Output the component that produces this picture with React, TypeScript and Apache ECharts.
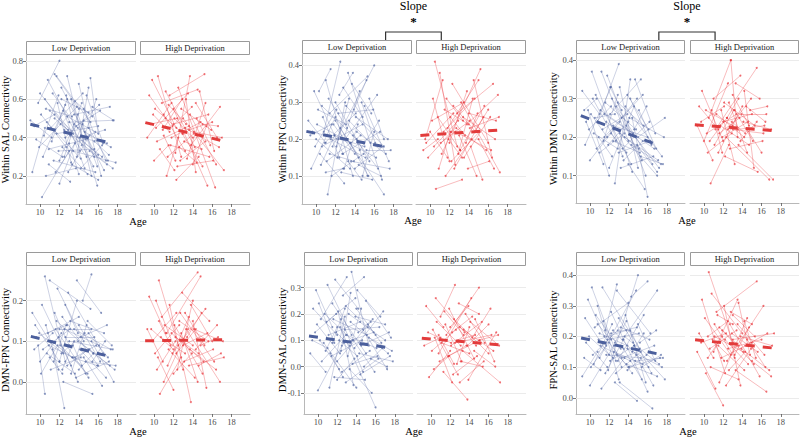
import React, { useEffect, useRef } from 'react';
import * as echarts from 'echarts';

// ---------- Tick labels ----------
const AGE_TICKS = [10, 12, 14, 16, 18];
const SAL_TICKS = [0.2, 0.4, 0.6, 0.8];
const FPN_TICKS = [0.1, 0.2, 0.3, 0.4];
const DMN_TICKS = [0.1, 0.2, 0.3, 0.4];
const DMNFPN_TICKS = [0.0, 0.1, 0.2];
const DMNSAL_TICKS = [-0.1, 0.0, 0.1, 0.2, 0.3];
const FPNSAL_TICKS = [0.0, 0.1, 0.2, 0.3, 0.4];

const FACETS = ['Low Deprivation', 'High Deprivation'];

// ---------- Individual trajectories: [age1, value1, age2, value2] ----------
const salLow = [
  [9.2, 0.22, 10.5, 0.45], [9.0, 0.49, 11.2, 0.40], [9.8, 0.58, 12.0, 0.80], [10.2, 0.09, 13.0, 0.33],
  [10.0, 0.63, 13.4, 0.42], [10.5, 0.60, 14.8, 0.30], [10.8, 0.70, 15.5, 0.25], [11.0, 0.54, 16.0, 0.31],
  [11.5, 0.73, 14.0, 0.55], [11.7, 0.72, 15.2, 0.48], [11.2, 0.38, 12.8, 0.60], [12.2, 0.66, 16.6, 0.23],
  [12.5, 0.44, 17.5, 0.24], [12.8, 0.72, 15.3, 0.20], [13.0, 0.48, 17.5, 0.49], [13.2, 0.60, 15.9, 0.15],
  [13.5, 0.52, 17.2, 0.56], [13.8, 0.30, 15.0, 0.66], [14.0, 0.68, 16.3, 0.20], [14.3, 0.36, 15.8, 0.60],
  [14.5, 0.55, 16.8, 0.28], [14.8, 0.62, 16.5, 0.37], [15.2, 0.71, 16.0, 0.42], [12.0, 0.16, 14.5, 0.49],
  [11.6, 0.22, 13.6, 0.37], [10.3, 0.30, 12.6, 0.57], [10.7, 0.48, 14.2, 0.29], [12.6, 0.40, 16.1, 0.57],
  [11.9, 0.33, 15.6, 0.34], [13.3, 0.26, 16.0, 0.18], [9.6, 0.39, 12.3, 0.30], [15.0, 0.45, 17.0, 0.28],
  [12.4, 0.54, 14.6, 0.24], [11.3, 0.63, 13.9, 0.45], [10.9, 0.26, 13.1, 0.17], [14.1, 0.40, 16.7, 0.44],
  [13.6, 0.59, 15.4, 0.51], [12.9, 0.22, 15.1, 0.41],
  [10.1, 0.52, 12.7, 0.35], [10.4, 0.41, 11.9, 0.62], [10.6, 0.55, 13.3, 0.51], [11.1, 0.45, 14.4, 0.63],
  [11.4, 0.28, 15.7, 0.22], [11.8, 0.58, 13.2, 0.27], [12.1, 0.47, 16.4, 0.30], [12.3, 0.35, 14.9, 0.21],
  [12.7, 0.62, 14.1, 0.33], [13.1, 0.41, 16.9, 0.37], [13.4, 0.33, 17.8, 0.27], [13.7, 0.46, 16.2, 0.54],
  [14.2, 0.24, 16.4, 0.36], [14.6, 0.43, 17.3, 0.35], [15.1, 0.33, 16.9, 0.26], [15.4, 0.56, 17.6, 0.49],
  [9.4, 0.46, 11.5, 0.52], [10.9, 0.34, 14.7, 0.39], [11.5, 0.50, 12.9, 0.44], [12.0, 0.28, 13.5, 0.47],
  [12.8, 0.51, 15.7, 0.43], [13.9, 0.52, 15.9, 0.25], [14.4, 0.47, 15.6, 0.30], [10.6, 0.20, 13.7, 0.24],
  [11.7, 0.42, 16.0, 0.46], [12.5, 0.30, 14.3, 0.58], [13.0, 0.37, 14.0, 0.21], [15.6, 0.38, 17.1, 0.31],
  [9.9, 0.35, 13.8, 0.56], [12.2, 0.60, 15.0, 0.53],
];
const salHigh = [
  [9.5, 0.62, 11.2, 0.50], [9.8, 0.70, 12.3, 0.45], [9.3, 0.40, 11.8, 0.58], [10.4, 0.72, 12.8, 0.30],
  [10.2, 0.45, 13.5, 0.63], [10.8, 0.58, 14.5, 0.65], [11.0, 0.52, 13.2, 0.33], [11.3, 0.20, 12.5, 0.40],
  [11.6, 0.62, 15.2, 0.73], [11.8, 0.40, 14.8, 0.48], [12.0, 0.55, 15.5, 0.15], [12.2, 0.32, 13.7, 0.72],
  [12.5, 0.66, 16.3, 0.14], [12.7, 0.28, 15.3, 0.38], [13.0, 0.50, 17.2, 0.23], [13.3, 0.60, 14.3, 0.22],
  [13.6, 0.44, 16.0, 0.48], [13.8, 0.36, 16.8, 0.56], [14.0, 0.26, 15.4, 0.46], [14.3, 0.58, 16.5, 0.40],
  [10.6, 0.34, 12.1, 0.23], [11.9, 0.46, 13.9, 0.56], [12.3, 0.18, 14.6, 0.30], [10.0, 0.28, 11.5, 0.36],
  [14.7, 0.64, 16.2, 0.33], [12.9, 0.42, 15.0, 0.25], [11.4, 0.30, 14.1, 0.42], [15.0, 0.47, 16.6, 0.46],
  [9.6, 0.47, 12.4, 0.50], [10.1, 0.55, 13.0, 0.42], [10.9, 0.44, 12.9, 0.60], [11.2, 0.64, 14.2, 0.35],
  [11.7, 0.36, 15.7, 0.30], [12.1, 0.50, 14.0, 0.40], [12.4, 0.25, 16.1, 0.28], [12.8, 0.55, 15.9, 0.44],
  [13.1, 0.38, 14.9, 0.34], [13.4, 0.29, 15.3, 0.58], [13.7, 0.52, 16.4, 0.26], [14.1, 0.43, 17.0, 0.40],
  [10.3, 0.38, 13.6, 0.46], [11.5, 0.57, 13.3, 0.47], [12.6, 0.35, 14.4, 0.27], [9.9, 0.52, 11.6, 0.43],
  [14.4, 0.50, 15.8, 0.36], [11.0, 0.41, 12.2, 0.28], [12.0, 0.47, 15.6, 0.52], [13.2, 0.45, 16.7, 0.35],
];
const fpnLow = [
  [9.2, 0.25, 11.0, 0.19], [9.5, 0.12, 12.0, 0.26], [9.8, 0.33, 12.8, 0.16], [10.3, 0.33, 11.5, 0.39],
  [10.0, 0.20, 13.5, 0.12], [10.6, 0.29, 14.2, 0.20], [10.8, 0.22, 12.5, 0.41], [11.0, 0.36, 13.8, 0.10],
  [11.2, 0.05, 13.0, 0.30], [11.4, 0.27, 15.3, 0.37], [11.7, 0.18, 16.0, 0.40], [12.0, 0.30, 15.5, 0.14],
  [12.2, 0.15, 14.5, 0.33], [12.5, 0.23, 17.0, 0.05], [12.8, 0.34, 14.8, 0.26], [13.0, 0.20, 16.3, 0.32],
  [13.3, 0.38, 16.8, 0.09], [13.6, 0.14, 17.6, 0.12], [13.9, 0.28, 15.2, 0.36], [14.2, 0.22, 17.2, 0.16],
  [14.5, 0.17, 16.5, 0.25], [14.8, 0.10, 16.0, 0.22], [10.4, 0.16, 12.9, 0.08], [11.8, 0.24, 14.0, 0.16],
  [12.6, 0.11, 15.8, 0.09], [9.6, 0.22, 12.3, 0.20], [13.4, 0.25, 15.6, 0.19], [15.0, 0.29, 17.5, 0.14],
  [11.1, 0.14, 14.6, 0.21], [12.4, 0.32, 13.8, 0.38], [10.2, 0.28, 13.1, 0.24], [14.0, 0.12, 16.9, 0.18],
  [15.5, 0.31, 17.0, 0.20], [11.5, 0.20, 15.1, 0.15],
  [9.9, 0.18, 12.1, 0.28], [10.1, 0.24, 13.6, 0.19], [10.5, 0.13, 11.9, 0.21], [10.9, 0.19, 14.1, 0.27],
  [11.3, 0.31, 13.2, 0.23], [11.6, 0.10, 14.9, 0.16], [11.9, 0.21, 16.2, 0.15], [12.1, 0.18, 13.4, 0.31],
  [12.3, 0.27, 15.9, 0.28], [12.7, 0.16, 16.6, 0.22], [12.9, 0.12, 14.3, 0.24], [13.1, 0.29, 17.0, 0.18],
  [13.5, 0.19, 15.4, 0.10], [13.8, 0.21, 16.4, 0.12], [14.1, 0.26, 17.4, 0.20], [14.4, 0.13, 16.7, 0.10],
  [14.7, 0.30, 16.1, 0.19], [15.2, 0.17, 17.7, 0.17], [10.7, 0.26, 12.4, 0.15], [11.4, 0.16, 13.9, 0.14],
  [12.6, 0.20, 15.0, 0.18], [13.3, 0.14, 14.7, 0.09], [9.4, 0.21, 11.6, 0.24], [11.0, 0.11, 12.8, 0.12],
  [12.0, 0.25, 14.4, 0.15], [13.7, 0.35, 15.7, 0.27], [10.6, 0.18, 14.8, 0.24], [14.3, 0.19, 15.3, 0.10],
];
const fpnHigh = [
  [9.5, 0.20, 11.3, 0.36], [9.8, 0.15, 12.2, 0.22], [10.5, 0.41, 12.8, 0.18], [10.2, 0.25, 13.5, 0.30],
  [10.6, 0.065, 13.3, 0.09], [11.0, 0.38, 12.6, 0.13], [11.2, 0.16, 15.2, 0.39], [11.5, 0.28, 14.0, 0.24],
  [11.8, 0.23, 15.0, 0.36], [12.0, 0.19, 13.8, 0.33], [12.3, 0.35, 16.0, 0.19], [12.5, 0.12, 15.5, 0.26],
  [12.8, 0.27, 16.5, 0.35], [13.0, 0.21, 14.8, 0.10], [13.2, 0.30, 17.2, 0.11], [13.5, 0.15, 16.2, 0.26],
  [13.8, 0.24, 17.0, 0.32], [14.2, 0.18, 15.4, 0.09], [14.5, 0.36, 16.4, 0.15], [10.3, 0.31, 12.0, 0.14],
  [11.6, 0.10, 14.3, 0.20], [12.1, 0.26, 13.6, 0.21], [9.3, 0.17, 10.8, 0.20], [14.0, 0.27, 16.8, 0.25],
  [12.7, 0.23, 15.8, 0.17], [11.4, 0.22, 14.6, 0.31], [15.0, 0.20, 16.6, 0.12],
  [9.6, 0.19, 12.4, 0.27], [10.0, 0.22, 11.8, 0.15], [10.8, 0.26, 13.1, 0.17], [11.1, 0.19, 14.1, 0.25],
  [11.7, 0.31, 13.4, 0.25], [12.2, 0.14, 15.1, 0.22], [12.6, 0.22, 16.3, 0.17], [13.1, 0.17, 15.6, 0.29],
  [13.4, 0.26, 16.7, 0.20], [13.7, 0.19, 14.9, 0.27], [14.1, 0.23, 17.1, 0.26], [10.4, 0.18, 12.9, 0.25],
  [11.9, 0.20, 13.3, 0.15], [12.4, 0.29, 14.7, 0.22], [14.6, 0.22, 16.0, 0.28], [10.9, 0.12, 12.1, 0.22],
  [13.9, 0.12, 16.1, 0.14], [12.9, 0.16, 14.4, 0.31],
];
const dmnLow = [
  [9.2, 0.32, 11.0, 0.26], [9.5, 0.18, 12.2, 0.33], [9.8, 0.27, 12.0, 0.10], [10.2, 0.37, 13.4, 0.15],
  [10.0, 0.14, 12.5, 0.22], [10.6, 0.31, 14.3, 0.13], [10.8, 0.24, 13.0, 0.39], [11.2, 0.37, 14.0, 0.19],
  [11.5, 0.20, 15.5, 0.31], [11.8, 0.36, 15.8, 0.10], [12.0, 0.12, 14.6, 0.28], [12.3, 0.30, 16.5, 0.13],
  [12.6, 0.08, 14.2, 0.35], [12.8, 0.22, 17.0, 0.10], [13.1, 0.33, 15.0, 0.12], [13.4, 0.17, 16.2, 0.24],
  [13.7, 0.28, 17.5, 0.15], [14.0, 0.13, 15.7, 0.065], [14.4, 0.25, 16.0, 0.045], [14.7, 0.35, 16.8, 0.21],
  [15.0, 0.20, 17.8, 0.25], [11.0, 0.16, 13.6, 0.21], [12.1, 0.26, 15.3, 0.35], [13.2, 0.12, 16.6, 0.15],
  [10.4, 0.21, 12.9, 0.17], [11.6, 0.29, 14.8, 0.22], [13.8, 0.23, 17.2, 0.12], [12.4, 0.19, 15.2, 0.16],
  [9.6, 0.24, 11.4, 0.13], [14.2, 0.30, 16.4, 0.18], [15.3, 0.15, 17.6, 0.13], [11.3, 0.22, 13.9, 0.26],
  [9.9, 0.22, 12.2, 0.28], [10.3, 0.30, 12.7, 0.19], [10.7, 0.17, 13.1, 0.24], [11.1, 0.27, 14.5, 0.21],
  [11.4, 0.19, 12.9, 0.31], [11.7, 0.24, 15.1, 0.17], [12.1, 0.33, 13.3, 0.27], [12.4, 0.23, 16.0, 0.20],
  [12.7, 0.28, 15.4, 0.14], [13.0, 0.16, 16.3, 0.19], [13.3, 0.25, 14.9, 0.30], [13.6, 0.20, 17.1, 0.14],
  [13.9, 0.31, 16.1, 0.22], [14.3, 0.18, 17.4, 0.13], [14.6, 0.22, 15.9, 0.28], [15.1, 0.27, 16.9, 0.17],
  [10.1, 0.26, 11.8, 0.20], [10.9, 0.20, 12.3, 0.15], [11.9, 0.18, 14.0, 0.24], [12.9, 0.29, 15.6, 0.23],
  [13.5, 0.14, 15.5, 0.19], [14.9, 0.18, 17.0, 0.11], [9.4, 0.27, 10.7, 0.30], [12.2, 0.21, 13.8, 0.16],
  [11.5, 0.26, 16.7, 0.17], [13.1, 0.21, 14.4, 0.11], [10.5, 0.25, 12.6, 0.26], [14.1, 0.25, 17.7, 0.20],
];
const dmnHigh = [
  [9.5, 0.28, 11.5, 0.22], [9.8, 0.32, 12.0, 0.19], [10.0, 0.19, 12.5, 0.34], [10.5, 0.25, 12.8, 0.40],
  [10.7, 0.08, 12.6, 0.18], [11.0, 0.30, 13.8, 0.36], [11.2, 0.22, 15.5, 0.38], [11.5, 0.16, 14.0, 0.28],
  [11.8, 0.27, 13.2, 0.13], [12.0, 0.24, 15.0, 0.26], [12.3, 0.20, 16.8, 0.09], [12.6, 0.29, 14.5, 0.16],
  [12.8, 0.40, 13.5, 0.20], [13.0, 0.22, 16.2, 0.21], [13.3, 0.34, 15.8, 0.30], [13.6, 0.18, 17.2, 0.09],
  [13.9, 0.26, 16.5, 0.26], [14.2, 0.32, 15.2, 0.12], [14.5, 0.22, 16.0, 0.16], [10.3, 0.21, 13.4, 0.26],
  [11.7, 0.23, 14.7, 0.18], [12.2, 0.15, 15.6, 0.11], [9.3, 0.23, 10.9, 0.14], [14.8, 0.27, 16.6, 0.28],
  [12.9, 0.24, 14.3, 0.21], [11.1, 0.18, 13.1, 0.27],
  [9.7, 0.24, 12.1, 0.28], [10.2, 0.27, 13.0, 0.23], [10.6, 0.19, 12.4, 0.25], [11.3, 0.26, 14.2, 0.20],
  [11.6, 0.21, 13.7, 0.25], [12.1, 0.29, 15.3, 0.23], [12.5, 0.22, 14.9, 0.30], [12.7, 0.17, 16.1, 0.19],
  [13.2, 0.27, 15.1, 0.19], [13.5, 0.22, 16.3, 0.23], [13.8, 0.19, 15.5, 0.24], [14.1, 0.24, 17.0, 0.22],
  [10.8, 0.27, 11.9, 0.16], [11.9, 0.20, 14.6, 0.24], [12.4, 0.25, 13.6, 0.30], [14.4, 0.28, 16.4, 0.24],
  [10.4, 0.16, 12.9, 0.21], [13.0, 0.31, 14.7, 0.23],
];
const dmnFpnLow = [
  [9.2, 0.17, 11.0, 0.10], [9.5, 0.14, 12.0, 0.05], [9.8, 0.09, 10.5, -0.03], [10.2, 0.19, 13.2, 0.04],
  [10.5, 0.26, 12.6, 0.05], [10.8, 0.12, 14.0, 0.16], [11.0, 0.25, 15.2, 0.18], [11.3, 0.08, 12.5, -0.065],
  [11.6, 0.13, 15.0, 0.01], [11.8, 0.23, 14.5, 0.10], [12.0, 0.05, 13.8, 0.20], [12.3, 0.16, 16.0, 0.04],
  [12.6, 0.11, 15.6, 0.11], [12.9, 0.22, 16.5, 0.07], [13.2, 0.02, 14.8, 0.14], [13.5, 0.13, 17.3, 0.08],
  [13.8, 0.25, 16.3, 0.17], [14.1, 0.08, 16.8, 0.01], [14.4, 0.20, 15.3, 0.265], [14.7, 0.05, 17.8, 0.04],
  [15.0, 0.12, 17.0, 0.06], [10.0, 0.05, 12.2, 0.12], [10.7, 0.07, 13.6, 0.02], [11.5, 0.17, 13.0, 0.09],
  [12.4, 0.00, 15.4, -0.03], [13.0, 0.10, 17.5, 0.08], [14.0, 0.14, 16.2, 0.05], [11.1, 0.03, 14.2, 0.06],
  [9.6, 0.11, 12.8, 0.14], [13.6, 0.06, 15.8, 0.09], [12.1, 0.09, 14.9, 0.02], [15.3, 0.10, 17.6, 0.00],
  [9.9, 0.12, 12.4, 0.07], [10.3, 0.08, 13.1, 0.13], [10.6, 0.14, 11.9, 0.03], [11.2, 0.10, 14.3, 0.04],
  [11.4, 0.05, 12.7, 0.14], [11.7, 0.15, 15.5, 0.07], [12.2, 0.07, 14.6, 0.12], [12.5, 0.13, 16.1, 0.09],
  [12.8, 0.04, 15.0, 0.08], [13.1, 0.15, 16.6, 0.12], [13.4, 0.09, 14.7, 0.02], [13.7, 0.01, 17.1, 0.05],
  [14.2, 0.11, 16.9, 0.14], [14.5, 0.06, 16.4, -0.01], [14.9, 0.15, 17.4, 0.09], [15.4, 0.05, 16.7, 0.10],
  [10.1, 0.02, 11.8, 0.09], [10.9, 0.09, 13.4, 0.06], [11.9, 0.11, 13.9, 0.00], [12.6, 0.19, 13.9, 0.12],
  [13.3, 0.06, 15.9, 0.04], [14.0, 0.03, 15.5, 0.07], [9.4, 0.08, 11.3, 0.12], [12.0, 0.13, 15.3, 0.13],
  [13.9, 0.10, 17.7, 0.03], [11.0, 0.06, 12.3, 0.02], [12.3, 0.03, 13.5, 0.10], [15.1, 0.08, 17.2, 0.04],
];
const dmnFpnHigh = [
  [9.5, 0.21, 11.2, 0.12], [9.8, 0.10, 12.3, 0.17], [10.2, 0.20, 13.0, 0.03], [10.5, 0.25, 12.5, 0.09],
  [10.8, 0.16, 14.5, 0.27], [11.0, 0.00, 13.5, 0.13], [11.3, 0.12, 14.8, 0.26], [11.6, 0.19, 13.8, -0.05],
  [11.9, 0.07, 15.3, 0.18], [12.1, 0.14, 15.0, 0.02], [12.4, 0.03, 14.0, 0.20], [12.7, 0.17, 16.2, 0.05],
  [13.0, 0.09, 15.5, 0.12], [13.3, 0.13, 16.8, 0.00], [13.6, 0.04, 17.2, 0.06], [14.0, 0.15, 15.4, -0.015],
  [14.3, 0.08, 16.5, 0.14], [10.4, 0.06, 12.0, -0.02], [12.2, 0.11, 14.6, 0.07], [9.3, 0.13, 10.9, 0.05],
  [13.8, 0.19, 16.0, 0.10], [11.5, 0.08, 14.2, 0.01], [12.9, 0.22, 15.7, 0.15], [10.6, -0.03, 12.8, 0.06],
  [14.8, 0.09, 16.6, 0.11],
  [9.7, 0.13, 12.0, 0.08], [10.1, 0.07, 12.6, 0.14], [10.7, 0.11, 13.2, 0.07], [11.1, 0.14, 14.0, 0.09],
  [11.4, 0.04, 13.6, 0.16], [11.8, 0.12, 15.1, 0.05], [12.3, 0.07, 14.3, 0.13], [12.6, 0.15, 15.6, 0.10],
  [13.1, 0.05, 16.1, 0.08], [13.4, 0.11, 14.9, 0.17], [13.7, 0.08, 16.4, 0.03], [14.1, 0.13, 17.1, 0.10],
  [10.5, 0.15, 11.7, 0.09], [12.0, 0.02, 13.9, 0.07], [12.8, 0.12, 14.5, 0.00], [14.6, 0.04, 16.9, 0.07],
  [10.3, 0.03, 12.2, 0.10], [13.2, 0.17, 15.2, 0.09],
];
const dmnSalLow = [
  [9.2, 0.05, 10.8, -0.02], [9.5, 0.22, 12.0, 0.12], [9.8, 0.29, 11.5, 0.15], [10.0, -0.09, 12.5, 0.08],
  [10.3, 0.18, 13.0, 0.34], [10.6, 0.09, 14.0, -0.08], [11.0, 0.31, 13.5, 0.12], [11.2, -0.08, 12.8, 0.19],
  [11.5, 0.24, 15.0, 0.05], [11.8, 0.33, 14.2, 0.22], [12.0, 0.02, 15.5, 0.17], [12.3, 0.15, 16.0, -0.155],
  [12.6, 0.27, 14.8, 0.34], [12.9, -0.06, 16.3, 0.03], [13.2, 0.20, 17.0, 0.10], [13.5, 0.36, 15.3, 0.08],
  [13.8, 0.07, 16.8, 0.21], [14.1, 0.29, 16.5, 0.19], [14.4, -0.03, 17.5, 0.04], [14.7, 0.14, 17.2, -0.01],
  [15.0, 0.25, 17.6, 0.11], [10.2, 0.10, 12.2, -0.01], [11.4, 0.04, 14.6, 0.10], [12.1, 0.21, 13.7, -0.07],
  [12.7, 0.09, 15.8, 0.13], [13.3, -0.01, 15.6, -0.10], [9.7, 0.13, 11.9, 0.20], [10.9, 0.17, 13.9, 0.26],
  [13.0, 0.12, 16.1, 0.07], [14.3, 0.05, 17.8, 0.02], [11.7, -0.04, 14.9, -0.05], [15.2, 0.16, 16.6, 0.09],
  [12.4, 0.06, 13.4, 0.28],
  [9.9, 0.16, 12.3, 0.05], [10.4, 0.02, 12.9, 0.12], [10.7, 0.20, 13.6, 0.10], [11.1, 0.12, 14.4, 0.17],
  [11.3, 0.05, 12.6, -0.04], [11.6, 0.18, 15.1, 0.12], [12.2, 0.10, 14.1, 0.04], [12.5, -0.02, 15.4, 0.06],
  [12.8, 0.14, 16.4, 0.15], [13.1, 0.04, 14.5, 0.22], [13.4, 0.17, 17.3, 0.05], [13.7, 0.10, 15.9, -0.02],
  [14.0, 0.22, 16.0, 0.12], [14.5, 0.08, 17.4, 0.13], [14.8, 0.00, 16.7, 0.07], [15.3, 0.11, 17.7, 0.06],
  [10.1, 0.24, 11.7, 0.09], [10.8, 0.06, 12.0, 0.15], [11.9, 0.13, 13.3, 0.08], [12.9, 0.23, 15.2, 0.15],
  [13.6, 0.01, 16.2, 0.04], [14.2, 0.13, 15.7, 0.18], [9.4, 0.10, 11.0, 0.07], [12.0, -0.05, 13.8, 0.03],
  [13.9, 0.19, 17.0, 0.16], [11.5, 0.09, 12.8, 0.22], [12.4, 0.18, 14.7, -0.02], [15.5, 0.03, 17.2, 0.00],
];
const dmnSalHigh = [
  [9.5, 0.23, 11.3, 0.15], [9.8, -0.04, 12.0, 0.06], [10.2, 0.14, 12.8, -0.03], [10.5, 0.26, 13.5, 0.13],
  [10.8, 0.05, 14.2, 0.26], [11.0, 0.19, 12.5, 0.31], [11.3, -0.02, 13.8, -0.125], [11.6, 0.12, 15.0, 0.30],
  [11.9, 0.22, 14.5, 0.03], [12.1, 0.08, 15.3, 0.17], [12.4, 0.18, 16.0, 0.05], [12.7, 0.01, 14.0, 0.15],
  [13.0, 0.15, 16.5, 0.06], [13.3, 0.06, 17.2, -0.06], [13.6, 0.20, 15.6, 0.09], [13.9, -0.05, 16.8, 0.13],
  [14.3, 0.11, 16.2, 0.22], [10.4, 0.11, 12.2, -0.06], [12.3, -0.03, 14.8, 0.04], [9.3, 0.08, 11.0, 0.11],
  [11.5, 0.16, 13.2, 0.02], [14.6, 0.18, 16.6, 0.02], [12.9, 0.24, 15.0, 0.20], [10.9, 0.02, 13.7, 0.08],
  [15.0, 0.10, 17.0, 0.12],
  [9.7, 0.13, 12.1, 0.09], [10.1, 0.06, 12.6, 0.14], [10.6, 0.17, 13.1, 0.08], [11.1, 0.09, 14.0, 0.05],
  [11.4, 0.21, 13.4, 0.12], [11.8, 0.04, 15.1, 0.10], [12.2, 0.13, 14.3, 0.19], [12.5, 0.09, 16.3, 0.12],
  [13.1, 0.02, 15.4, 0.00], [13.4, 0.14, 14.7, 0.08], [13.8, 0.08, 16.0, 0.16], [14.1, 0.17, 17.1, 0.08],
  [10.3, -0.01, 11.9, 0.04], [12.0, 0.15, 13.9, 0.23], [12.8, 0.10, 14.6, 0.12], [14.5, 0.06, 16.7, 0.00],
  [10.8, 0.12, 12.4, 0.01], [13.0, -0.06, 15.5, 0.02],
];
const fpnSalLow = [
  [9.2, 0.07, 10.8, 0.15], [9.5, 0.26, 12.0, 0.14], [9.8, 0.32, 11.5, 0.20], [10.2, 0.36, 13.3, 0.10],
  [10.0, 0.04, 12.5, 0.17], [10.5, 0.23, 14.0, 0.31], [10.8, 0.30, 13.0, 0.06], [11.0, 0.13, 14.8, 0.35],
  [11.3, 0.36, 15.2, 0.16], [11.6, 0.22, 12.8, 0.37], [11.9, 0.09, 15.0, 0.40], [12.2, 0.28, 16.0, 0.02],
  [12.5, 0.15, 15.5, 0.11], [12.8, 0.35, 16.3, 0.21], [13.1, 0.05, 16.5, -0.035], [13.4, 0.19, 17.0, 0.35],
  [13.7, 0.27, 15.8, 0.05], [14.0, 0.10, 17.3, 0.13], [14.3, 0.33, 16.0, 0.38], [14.6, 0.17, 17.8, 0.06],
  [15.0, 0.24, 16.8, 0.12], [10.4, 0.11, 12.3, 0.24], [11.2, 0.03, 13.6, 0.13], [12.0, 0.18, 14.4, 0.08],
  [12.6, 0.05, 14.9, -0.01], [13.2, 0.23, 16.2, 0.19], [9.6, 0.18, 11.8, 0.10], [11.7, 0.14, 15.3, 0.13],
  [13.9, 0.16, 17.5, 0.10], [10.9, 0.19, 13.8, 0.22], [12.9, 0.12, 15.6, 0.27], [14.8, 0.14, 16.6, 0.04],
  [9.9, 0.20, 12.4, 0.13], [10.3, 0.14, 12.9, 0.22], [10.6, 0.27, 13.2, 0.16], [11.1, 0.17, 14.2, 0.12],
  [11.4, 0.25, 12.7, 0.12], [11.8, 0.19, 15.1, 0.21], [12.1, 0.12, 14.6, 0.17], [12.4, 0.22, 16.1, 0.10],
  [12.7, 0.08, 15.3, 0.15], [13.0, 0.26, 14.5, 0.18], [13.3, 0.13, 16.7, 0.17], [13.6, 0.20, 17.2, 0.11],
  [13.9, 0.09, 15.9, 0.14], [14.2, 0.22, 16.4, 0.08], [14.7, 0.12, 17.6, 0.13], [15.2, 0.18, 16.9, 0.22],
  [10.1, 0.10, 11.7, 0.17], [10.8, 0.24, 12.2, 0.19], [11.6, 0.08, 13.5, 0.19], [12.6, 0.18, 13.8, 0.25],
  [13.5, 0.16, 15.4, 0.06], [14.4, 0.15, 15.6, 0.21], [9.4, 0.13, 11.1, 0.09], [12.2, 0.21, 14.9, 0.23],
  [13.8, 0.11, 17.0, 0.07], [11.0, 0.21, 13.9, 0.17], [12.8, 0.14, 14.1, 0.10], [15.4, 0.10, 17.4, 0.14],
];
const fpnSalHigh = [
  [9.5, 0.21, 11.0, 0.13], [9.8, 0.32, 12.2, 0.08], [10.5, 0.41, 13.0, 0.18], [10.2, 0.08, 12.0, -0.025],
  [10.8, 0.34, 14.0, 0.21], [11.0, 0.15, 13.5, 0.32], [11.3, 0.28, 15.5, 0.38], [11.6, 0.05, 14.5, 0.26],
  [11.9, 0.22, 15.2, 0.11], [12.1, 0.30, 13.8, 0.04], [12.4, 0.12, 16.2, 0.30], [12.7, 0.24, 15.8, 0.07],
  [13.0, 0.19, 17.3, 0.21], [13.3, 0.09, 16.5, 0.02], [13.6, 0.31, 14.8, 0.14], [13.9, 0.16, 16.8, 0.09],
  [14.2, 0.25, 15.4, 0.13], [10.4, 0.20, 12.5, 0.25], [11.5, 0.17, 14.2, 0.09], [12.3, 0.04, 14.9, 0.16],
  [9.3, 0.15, 11.2, 0.03], [14.5, 0.19, 16.4, 0.10], [12.8, 0.28, 15.0, 0.24], [11.1, 0.24, 13.2, 0.13],
  [15.0, 0.12, 17.0, 0.07], [10.7, 0.10, 13.6, 0.06],
  [9.7, 0.18, 12.3, 0.21], [10.1, 0.26, 12.8, 0.14], [10.6, 0.16, 13.4, 0.22], [11.1, 0.20, 14.1, 0.15],
  [11.4, 0.27, 13.0, 0.24], [11.8, 0.13, 15.0, 0.18], [12.2, 0.19, 14.6, 0.11], [12.5, 0.16, 16.0, 0.19],
  [12.9, 0.21, 15.6, 0.15], [13.2, 0.14, 14.7, 0.23], [13.5, 0.24, 16.3, 0.14], [13.8, 0.20, 17.1, 0.17],
  [10.4, 0.13, 11.9, 0.20], [11.6, 0.23, 13.6, 0.17], [12.6, 0.09, 14.3, 0.15], [14.3, 0.17, 16.6, 0.21],
  [10.9, 0.19, 12.1, 0.12], [13.0, 0.27, 15.3, 0.20],
];

// ---------- Model fit lines: [[ageStart, value], [ageEnd, value]] ----------
const salLowFit = [[9.0, 0.469], [17.3, 0.372]];
const salHighFit = [[9.1, 0.478], [17.2, 0.382]];
const fpnLowFit = [[9.0, 0.221], [17.3, 0.178]];
const fpnHighFit = [[9.0, 0.210], [17.3, 0.225]];
const dmnLowFit = [[9.05, 0.256], [17.0, 0.180]];
const dmnHighFit = [[9.05, 0.232], [17.3, 0.217]];
const dmnFpnLowFit = [[9.05, 0.112], [17.25, 0.062]];
const dmnFpnHighFit = [[9.08, 0.101], [17.25, 0.104]];
const dmnSalLowFit = [[9.07, 0.116], [17.35, 0.072]];
const dmnSalHighFit = [[9.05, 0.108], [17.3, 0.082]];
const fpnSalLowFit = [[9.08, 0.195], [17.25, 0.142]];
const fpnSalHighFit = [[9.08, 0.189], [17.3, 0.162]];

// ---------- Layout (pixels) ----------
const FONT = "'Liberation Serif', 'DejaVu Serif', serif";
const LOW_COLOR = '#4a5f9e';
const HIGH_COLOR = '#e8262c';
const X_MIN = 8.55;
const X_MAX = 19.9;

type PanelDef = {
  title: string;
  ticks: number[];
  low: number[][];
  high: number[][];
  lowFit: number[][];
  highFit: number[][];
  lefts: [number, number];
  width: number;
  top: number;
  height: number;
  yMin: number;
  yMax: number;
  titleX: number;
  ageX: number;
  ageY: number;
  bracket?: boolean;
};

const PANELS: PanelDef[] = [
  { title: 'Within SAL Connectivity', ticks: SAL_TICKS, low: salLow, high: salHigh, lowFit: salLowFit, highFit: salHighFit,
    lefts: [26, 140], width: 110, top: 55, height: 149, yMin: 0.054, yMax: 0.83, titleX: 5, ageX: 138, ageY: 221 },
  { title: 'Within FPN Connectivity', ticks: FPN_TICKS, low: fpnLow, high: fpnHigh, lowFit: fpnLowFit, highFit: fpnHighFit,
    lefts: [302, 416], width: 110, top: 54, height: 150, yMin: 0.024, yMax: 0.431, titleX: 282, ageX: 413, ageY: 220, bracket: true },
  { title: 'Within DMN Connectivity', ticks: DMN_TICKS, low: dmnLow, high: dmnHigh, lowFit: dmnLowFit, highFit: dmnHighFit,
    lefts: [576, 690], width: 109, top: 54, height: 149, yMin: 0.029, yMax: 0.416, titleX: 553, ageX: 687, ageY: 220, bracket: true },
  { title: 'DMN-FPN Connectivity', ticks: DMNFPN_TICKS, low: dmnFpnLow, high: dmnFpnHigh, lowFit: dmnFpnLowFit, highFit: dmnFpnHighFit,
    lefts: [26, 140], width: 110, top: 266, height: 148, yMin: -0.0795, yMax: 0.2857, titleX: 5, ageX: 138, ageY: 431 },
  { title: 'DMN-SAL Connectivity', ticks: DMNSAL_TICKS, low: dmnSalLow, high: dmnSalHigh, lowFit: dmnSalLowFit, highFit: dmnSalHighFit,
    lefts: [304, 417], width: 109, top: 266, height: 148, yMin: -0.18, yMax: 0.382, titleX: 282, ageX: 414, ageY: 431 },
  { title: 'FPN-SAL Connectivity', ticks: FPNSAL_TICKS, low: fpnSalLow, high: fpnSalHigh, lowFit: fpnSalLowFit, highFit: fpnSalHighFit,
    lefts: [576, 690], width: 109, top: 266, height: 148, yMin: -0.053, yMax: 0.43, titleX: 553, ageX: 688, ageY: 431 },
];

function buildOption() {
  const grid: any[] = [];
  const xAxis: any[] = [];
  const yAxis: any[] = [];
  const series: any[] = [];
  const graphic: any[] = [];

  PANELS.forEach((p) => {
    [0, 1].forEach((f) => {
      const gi = grid.length;
      const isLow = f === 0;
      const color = isLow ? LOW_COLOR : HIGH_COLOR;
      const segs = isLow ? p.low : p.high;
      const fit = isLow ? p.lowFit : p.highFit;
      grid.push({ left: p.lefts[f], top: p.top, width: p.width, height: p.height, containLabel: false });
      xAxis.push({
        type: 'value', gridIndex: gi, min: X_MIN, max: X_MAX,
        axisLine: { show: true, onZero: false, lineStyle: { color: '#b8b8b8', width: 1 } },
        axisTick: { show: true, length: 3, customValues: AGE_TICKS, lineStyle: { color: '#555', width: 0.8 } },
        axisLabel: { customValues: AGE_TICKS, fontFamily: FONT, fontSize: 8.5, color: '#4d4d4d', margin: 3 },
        splitLine: { show: false },
      });
      yAxis.push({
        type: 'value', gridIndex: gi, min: p.yMin, max: p.yMax,
        axisLine: { show: isLow, onZero: false, lineStyle: { color: '#b8b8b8', width: 1 } },
        axisTick: { show: isLow, length: 3, customValues: p.ticks, lineStyle: { color: '#555', width: 0.8 } },
        axisLabel: {
          show: isLow, customValues: p.ticks, fontFamily: FONT, fontSize: 8.5, color: '#4d4d4d', margin: 3,
          formatter: (v: number) => v.toFixed(1),
        },
        splitLine: { show: false },
      });
      const points: number[][] = [];
      segs.forEach((s) => { points.push([s[0], s[1]]); points.push([s[2], s[3]]); });
      series.push({
        type: 'lines', coordinateSystem: 'cartesian2d', xAxisIndex: gi, yAxisIndex: gi, z: 2, silent: true,
        lineStyle: { color, width: 0.7, opacity: isLow ? 0.4 : 0.45, curveness: 0 },
        data: segs.map((s) => ({ coords: [[s[0], s[1]], [s[2], s[3]]] })),
      });
      series.push({
        type: 'scatter', xAxisIndex: gi, yAxisIndex: gi, z: 3, silent: true, symbolSize: 2,
        itemStyle: { color, opacity: 0.65 },
        data: points,
        markLine: {
          z: 1, silent: true, symbol: ['none', 'none'], label: { show: false },
          lineStyle: { color: '#ebebeb', type: 'solid', width: 1 },
          emphasis: { disabled: true },
          data: p.ticks.map((v) => ({ yAxis: v })),
        },
      });
      series.push({
        type: 'line', xAxisIndex: gi, yAxisIndex: gi, z: 4, silent: true, symbol: 'none',
        lineStyle: { color: isLow ? '#4b5f9c' : '#e23b3b', width: 3, type: [9, 8] },
        data: fit,
      });
      // strip
      graphic.push({
        type: 'rect', silent: true,
        shape: { x: p.lefts[f] + 0.5, y: p.top - 13.5, width: p.width - 1, height: 13 },
        style: { fill: '#ffffff', stroke: '#9a9a9a', lineWidth: 1 },
      });
      graphic.push({
        type: 'text', silent: true, x: p.lefts[f] + p.width / 2, y: p.top - 7,
        style: { text: FACETS[f], font: `8.5px ${FONT}`, fill: '#1a1a1a', textAlign: 'center', textVerticalAlign: 'middle' },
      });
    });
    // axis titles
    graphic.push({
      type: 'text', silent: true, x: p.titleX, y: p.top + p.height / 2, rotation: Math.PI / 2,
      style: { text: p.title, font: `10.5px ${FONT}`, fill: '#000', textAlign: 'center', textVerticalAlign: 'middle' },
    });
    graphic.push({
      type: 'text', silent: true, x: p.ageX, y: p.ageY,
      style: { text: 'Age', font: `10.5px ${FONT}`, fill: '#000', textAlign: 'center', textVerticalAlign: 'middle' },
    });
    if (p.bracket) {
      const xl = p.lefts[0] + p.width * 0.76;
      const xr = p.lefts[1] + p.width * 0.23;
      const xc = (xl + xr) / 2;
      graphic.push({
        type: 'polyline', silent: true,
        shape: { points: [[xl, 40], [xl, 32], [xr, 32], [xr, 40]] },
        style: { stroke: '#333', lineWidth: 1.2, fill: null },
      });
      graphic.push({
        type: 'text', silent: true, x: xc, y: 6,
        style: { text: 'Slope', font: `12px ${FONT}`, fill: '#000', textAlign: 'center', textVerticalAlign: 'middle' },
      });
      graphic.push({
        type: 'text', silent: true, x: xc, y: 21,
        style: { text: '*', font: `bold 13px ${FONT}`, fill: '#000', textAlign: 'center', textVerticalAlign: 'middle' },
      });
    }
  });

  return {
    animation: false,
    backgroundColor: '#ffffff',
    grid, xAxis, yAxis, series, graphic,
  };
}

export default function App() {
  const ref = useRef<HTMLDivElement>(null);
  useEffect(() => {
    if (!ref.current) return;
    const chart = echarts.init(ref.current, undefined, { renderer: 'svg' });
    chart.setOption(buildOption() as any);
    return () => chart.dispose();
  }, []);
  return <div ref={ref} style={{ position: 'fixed', left: 0, top: 0, width: 800, height: 437 }} />;
}
